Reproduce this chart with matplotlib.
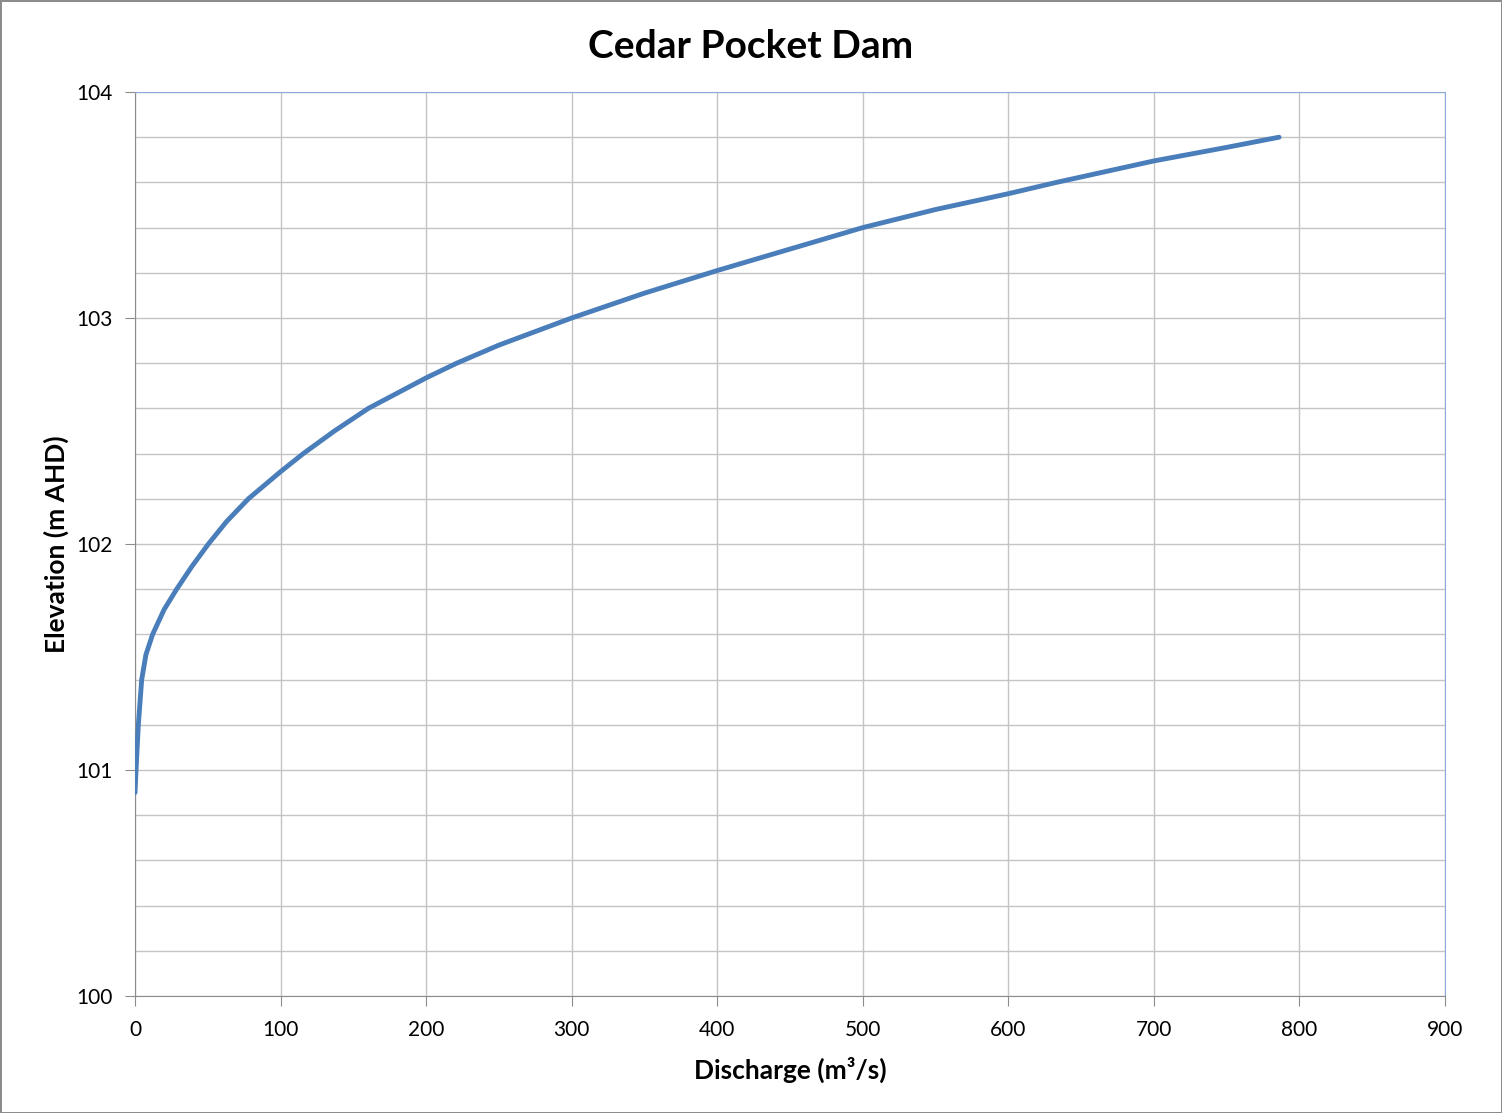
import matplotlib.pyplot as plt
from matplotlib.ticker import MultipleLocator

# Curva de descarga
discharge = [0, 0.7, 2.3, 4.6, 7.5, 12.1, 20, 28.6, 39, 50.4, 63, 77.9, 100,
             115.6, 137, 160.3, 200, 221, 250, 300, 350, 400, 450, 480, 500,
             550, 600, 633, 650, 700, 750, 786]
elevation = [100.9, 101.0, 101.2, 101.4, 101.51, 101.6, 101.71, 101.8, 101.9,
             102.0, 102.1, 102.2, 102.32, 102.4, 102.5, 102.6, 102.735, 102.8,
             102.88, 103.0, 103.11, 103.21, 103.305, 103.362, 103.4, 103.48,
             103.55, 103.6, 103.624, 103.695, 103.755, 103.8]

xticks = [0, 100, 200, 300, 400, 500, 600, 700, 800, 900]
yticks = [100, 101, 102, 103, 104]

plt.rcParams['font.family'] = ['Lato', 'DejaVu Sans']

fig = plt.figure(figsize=(15.02, 11.13), dpi=100, linewidth=2, edgecolor='#8c8c8c')
ax = fig.add_axes([135 / 1502, 1 - 996 / 1113, 1310 / 1502, 904 / 1113])

ax.plot(discharge, elevation, color='#4a7ebb', linewidth=3.5, solid_capstyle='round', zorder=3)

ax.set_xlim(0, 900)
ax.set_ylim(100, 104)
ax.set_xticks(xticks)
ax.set_yticks(yticks)
ax.yaxis.set_minor_locator(MultipleLocator(0.2))

ax.grid(True, which='major', color='#c4c4c4', linewidth=1)
ax.grid(True, which='minor', axis='y', color='#c4c4c4', linewidth=1)
ax.tick_params(which='minor', length=0)
ax.tick_params(which='major', direction='out', length=7, color='#8c8c8c',
               labelsize=15)
ax.tick_params(axis='x', pad=10)
ax.tick_params(axis='y', pad=9)
ax.set_axisbelow(True)

for side in ['left', 'bottom']:
    ax.spines[side].set_color('#8c8c8c')
for side in ['top', 'right']:
    ax.spines[side].set_color('#8eaadb')

# Titulo centrado en la figura
fig.suptitle('Cedar Pocket Dam', fontsize=28, fontweight='bold', x=0.5, y=1 - 46 / 1113, va='center')
ax.set_xlabel('Discharge (m³/s)', fontsize=19, fontweight='bold', labelpad=12)
ax.set_ylabel('Elevation (m AHD)', fontsize=19, fontweight='bold', labelpad=5)

plt.savefig('out.png')
